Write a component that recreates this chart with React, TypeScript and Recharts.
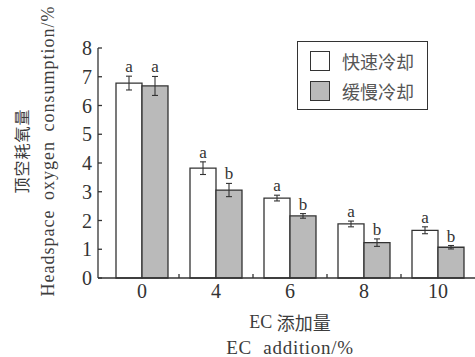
import React from 'react';
import {
  Bar,
  BarChart,
  ErrorBar,
  LabelList,
  XAxis,
  YAxis,
} from 'recharts';

const categories = ['0', '4', '6', '8', '10'];
const fastCooling = [6.78, 3.82, 2.78, 1.88, 1.66];
const fastCoolingErr = [0.24, 0.22, 0.1, 0.1, 0.12];
const fastCoolingSig = ['a', 'a', 'a', 'a', 'a'];
const slowCooling = [6.68, 3.06, 2.16, 1.23, 1.07];
const slowCoolingErr = [0.33, 0.23, 0.08, 0.13, 0.06];
const slowCoolingSig = ['a', 'b', 'b', 'b', 'b'];
const yTicks = [0, 1, 2, 3, 4, 5, 6, 7, 8];

const seriesNames = ['快速冷却', '缓慢冷却'];

const data = categories.map((c, i) => ({
  name: c,
  fast: fastCooling[i],
  fastErr: fastCoolingErr[i],
  fastSig: fastCoolingSig[i],
  slow: slowCooling[i],
  slowErr: slowCoolingErr[i],
  slowSig: slowCoolingSig[i],
}));

const SERIF = 'Liberation Serif, serif';
const CJK = 'Noto Sans CJK SC, sans-serif';
const INK = '#333';
const TEXT = '#3c3c3c';
const GRAY_FILL = '#bababa';

// significance letter sits just above the top of the error bar
const sigLabel = (values: number[], errs: number[]) => (props: any) => {
  const { x, y, width, height, value, index } = props;
  const v = values[index];
  const pxPerUnit = v ? height / v : 0;
  const top = y - errs[index] * pxPerUnit;
  return (
    <text
      x={x + width / 2}
      y={top - 4}
      textAnchor="middle"
      style={{ fontFamily: SERIF, fontSize: 17 }}
      fill={INK}>
      {value}
    </text>
  );
};

const XTick = (props: any) => {
  const { x, y, payload, index } = props;
  const half = payload?.offset ?? 37;
  return (
    <g>
      <text
        x={x}
        y={y + 20}
        textAnchor="middle"
        style={{ fontFamily: SERIF, fontSize: 20 }}
        fill={INK}>
        {payload.value}
      </text>
      {index < categories.length - 1 && (
        <line
          x1={x + half}
          x2={x + half}
          y1={y}
          y2={y - 4}
          stroke={INK}
          strokeWidth={1.3}
        />
      )}
    </g>
  );
};

const YTick = (props: any) => {
  const { x, y, payload } = props;
  return (
    <text
      x={x}
      y={y}
      textAnchor="end"
      dominantBaseline="central"
      style={{ fontFamily: SERIF, fontSize: 20 }}
      fill={INK}>
      {payload.value}
    </text>
  );
};

const LegendBox = () => (
  <div
    style={{
      position: 'absolute',
      left: 297,
      top: 41,
      border: `1.3px solid ${INK}`,
      width: 131,
      height: 69,
      boxSizing: 'border-box',
      background: '#fff',
      padding: '9px 0 0 12px',
    }}>
    {seriesNames.map((n, i) => (
      <div
        key={n}
        style={{
          display: 'flex',
          alignItems: 'center',
          height: 20,
          marginBottom: i === 0 ? 10 : 0,
        }}>
        <span
          style={{
            display: 'inline-block',
            width: 20,
            height: 20,
            border: `1.3px solid ${INK}`,
            boxSizing: 'border-box',
            background: i === 0 ? '#fff' : GRAY_FILL,
          }}
        />
        <span
          style={{
            marginLeft: 12,
            fontFamily: CJK,
            fontSize: 18,
            color: '#555',
            lineHeight: '20px',
          }}>
          {n}
        </span>
      </div>
    ))}
  </div>
);

const YTitle = () => {
  const cy = 151;
  return (
    <g>
      <text
        transform={`translate(21, ${cy}) rotate(-90)`}
        textAnchor="middle"
        dominantBaseline="central"
        style={{ fontFamily: CJK, fontSize: 16, letterSpacing: 1 }}
        fill={TEXT}>
        顶空耗氧量
      </text>
      <text
        transform={`translate(48, ${cy}) rotate(-90)`}
        textAnchor="middle"
        dominantBaseline="central"
        style={{ fontFamily: SERIF, fontSize: 18, wordSpacing: 4, letterSpacing: 1 }}
        fill={TEXT}>
        Headspace oxygen consumption/%
      </text>
    </g>
  );
};

const XTitle = () => (
  <g>
    <text
      x={290}
      y={322}
      textAnchor="middle"
      dominantBaseline="central"
      style={{ fontSize: 18 }}
      fill={TEXT}>
      <tspan style={{ fontFamily: SERIF }}>EC </tspan>
      <tspan style={{ fontFamily: CJK }}>添加量</tspan>
    </text>
    <text
      x={290}
      y={347}
      textAnchor="middle"
      dominantBaseline="central"
      style={{ fontFamily: SERIF, fontSize: 19, wordSpacing: 6, letterSpacing: 0.7 }}
      fill={TEXT}>
      EC addition/%
    </text>
  </g>
);

const App = () => {
  return (
    <div style={{ position: 'absolute', left: 0, top: 0, background: '#fff' }}>
      <BarChart
        width={475}
        height={357}
        data={data}
        margin={{ top: 48, right: 0, left: 0, bottom: 0 }}
        barGap={0}
        barSize={26}>
        <XAxis
          dataKey="name"
          height={79}
          padding={{ left: 7, right: 0 }}
          axisLine={{ stroke: INK, strokeWidth: 1.3 }}
          tickLine={false}
          tickSize={0}
          tickMargin={0}
          tick={<XTick />}
          interval={0}
          label={<XTitle />}
        />
        <YAxis
          width={98}
          domain={[0, 8]}
          ticks={yTicks}
          interval={0}
          axisLine={{ stroke: INK, strokeWidth: 1.3 }}
          tickLine={{ stroke: INK, strokeWidth: 1.3 }}
          tickSize={-4}
          tickMargin={10}
          tick={<YTick />}
          label={<YTitle />}
        />
        <Bar
          dataKey="fast"
          name={seriesNames[0]}
          fill="#fff"
          stroke={INK}
          strokeWidth={1.3}
          isAnimationActive={false}>
          <ErrorBar dataKey="fastErr" width={3} stroke={INK} strokeWidth={1.1} />
          <LabelList dataKey="fastSig" content={sigLabel(fastCooling, fastCoolingErr)} />
        </Bar>
        <Bar
          dataKey="slow"
          name={seriesNames[1]}
          fill={GRAY_FILL}
          stroke={INK}
          strokeWidth={1.3}
          isAnimationActive={false}>
          <ErrorBar dataKey="slowErr" width={3} stroke={INK} strokeWidth={1.1} />
          <LabelList dataKey="slowSig" content={sigLabel(slowCooling, slowCoolingErr)} />
        </Bar>
      </BarChart>
      <LegendBox />
    </div>
  );
};

export default App;
